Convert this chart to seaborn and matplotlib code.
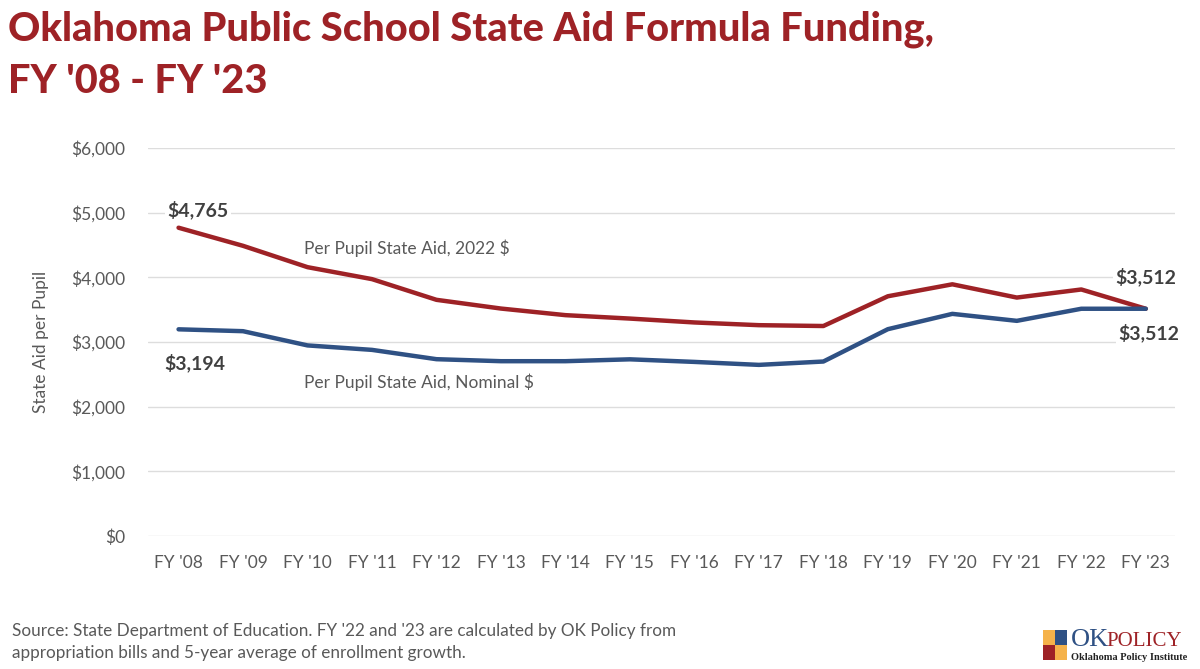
import matplotlib
matplotlib.use("Agg")
import matplotlib.pyplot as plt
import matplotlib.patches as mpatches
import seaborn as sns
import pandas as pd

years = ["FY '08", "FY '09", "FY '10", "FY '11", "FY '12", "FY '13", "FY '14", "FY '15",
         "FY '16", "FY '17", "FY '18", "FY '19", "FY '20", "FY '21", "FY '22", "FY '23"]
real_2022 = [4765, 4485, 4155, 3970, 3650, 3515, 3413, 3360,
             3300, 3258, 3245, 3705, 3890, 3685, 3810, 3512]
nominal = [3194, 3165, 2945, 2876, 2732, 2701, 2701, 2730,
           2690, 2644, 2696, 3196, 3433, 3325, 3512, 3512]
series_names = ["Per Pupil State Aid, 2022 $", "Per Pupil State Aid, Nominal $"]
yticks = [0, 1000, 2000, 3000, 4000, 5000, 6000]

RED = "#9E2226"
BLUE = "#2F5184"
GRAY = "#595959"

df = pd.DataFrame({
    "year": years * 2,
    "x": list(range(len(years))) * 2,
    "value": real_2022 + nominal,
    "series": [series_names[0]] * len(years) + [series_names[1]] * len(years),
})

sns.set_theme(style="white")
plt.rcParams["font.family"] = ["Lato", "DejaVu Sans"]

fig = plt.figure(figsize=(12, 6.69), dpi=100)
ax = fig.add_axes([0.123, 0.199, 0.856, 0.58])

sns.lineplot(data=df, x="x", y="value", hue="series",
             palette={series_names[0]: RED, series_names[1]: BLUE},
             linewidth=3.2, legend=False, ax=ax)

ax.set_ylim(0, 6000)
ax.set_xlim(-0.48, len(years) - 1 + 0.45)
ax.set_yticks(yticks)
ax.set_yticklabels([f"${v:,.0f}" for v in yticks], color=GRAY, fontsize=12.5)
ax.set_xticks(range(len(years)))
ax.set_xticklabels(years, color=GRAY, fontsize=12.5)
ax.tick_params(axis="y", length=0, pad=16)
ax.tick_params(axis="x", length=0, pad=14)
ax.grid(axis="y", color="#DDDDDD", linewidth=1)
ax.set_axisbelow(True)
for s in ax.spines.values():
    s.set_visible(False)
ax.set_xlabel("")
ax.set_ylabel("State Aid per Pupil", color=GRAY, fontsize=12.5, labelpad=16)

bbox = dict(facecolor="white", edgecolor="none", pad=2)
ax.text(0.3, real_2022[0] + 270, f"${real_2022[0]:,}", fontsize=14, fontweight="bold",
        color="#404040", ha="center", va="center", bbox=bbox)
ax.text(0.25, nominal[0] - 520, f"${nominal[0]:,}", fontsize=14, fontweight="bold",
        color="#404040", ha="center", va="center", bbox=bbox)
ax.text(15.0, real_2022[-1] + 500, f"${real_2022[-1]:,}", fontsize=14, fontweight="bold",
        color="#404040", ha="center", va="center", bbox=bbox)
ax.text(15.05, nominal[-1] - 370, f"${nominal[-1]:,}", fontsize=14, fontweight="bold",
        color="#404040", ha="center", va="center", bbox=bbox)

ax.text(1.95, 4450, series_names[0], fontsize=12.5, color=GRAY, ha="left", va="center")
ax.text(1.95, 2370, series_names[1], fontsize=12.5, color=GRAY, ha="left", va="center")

fig.text(0.007, 1 - 41 / 669, "Oklahoma Public School State Aid Formula Funding,",
         fontsize=28.6, fontweight="black", color=RED, ha="left", va="baseline")
fig.text(0.007, 1 - 93 / 669, "FY '08 - FY '23",
         fontsize=28.6, fontweight="black", color=RED, ha="left", va="baseline")

fig.text(0.01, 1 - 636 / 669,
         "Source: State Department of Education. FY '22 and '23 are calculated by OK Policy from",
         fontsize=12.3, color=GRAY, ha="left", va="baseline")
fig.text(0.01, 1 - 658 / 669,
         "appropriation bills and 5-year average of enrollment growth.",
         fontsize=12.3, color=GRAY, ha="left", va="baseline")

# logo
lx, ly, lw, lh = 1043 / 1200, 1 - 660 / 669, 24 / 1200, 30 / 669
fig.patches.append(mpatches.Rectangle((lx, ly + lh / 2), lw / 2, lh / 2, transform=fig.transFigure,
                                      facecolor="#F5B24A", edgecolor="none"))
fig.patches.append(mpatches.Rectangle((lx + lw / 2, ly + lh / 2), lw / 2, lh / 2, transform=fig.transFigure,
                                      facecolor="#2F5184", edgecolor="none"))
fig.patches.append(mpatches.Rectangle((lx, ly), lw / 2, lh / 2, transform=fig.transFigure,
                                      facecolor="#9E2226", edgecolor="none"))
fig.patches.append(mpatches.Rectangle((lx + lw / 2, ly), lw / 2, lh / 2, transform=fig.transFigure,
                                      facecolor="#F5B24A", edgecolor="none"))
fig.text(1071 / 1200, 1 - 646 / 669, "OK", fontsize=19, color="#2F5184",
         family=["Liberation Serif"], ha="left", va="baseline")
fig.text(1106 / 1200, 1 - 646 / 669, "POLICY", fontsize=15, color=RED,
         family=["Liberation Serif"], ha="left", va="baseline")
fig.text(1071 / 1200, 1 - 660 / 669, "Oklahoma Policy Institute", fontsize=7.5, color="#222222",
         family=["Liberation Serif"], fontweight="bold", ha="left", va="baseline")

fig.savefig("out.png", dpi=100, facecolor="white")
